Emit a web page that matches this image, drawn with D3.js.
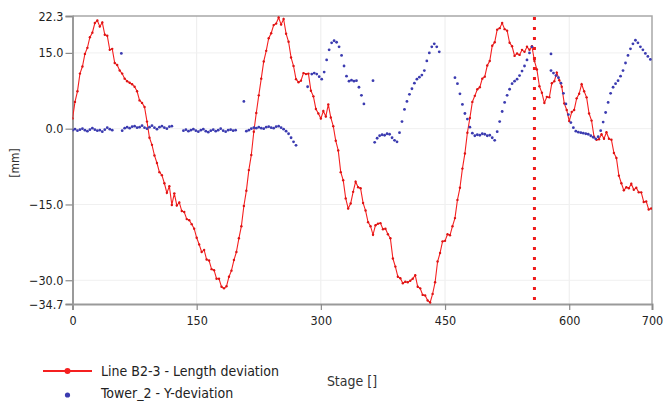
<!DOCTYPE html>
<html><head><meta charset="utf-8">
<script src="https://cdn.jsdelivr.net/npm/d3@7"></script>
<style>
html,body{margin:0;padding:0;background:#fff;}
svg{display:block;font-family:"DejaVu Sans Condensed","DejaVu Sans",sans-serif;}
</style></head>
<body><svg id="c" width="665" height="402"></svg>
<script>
// ---- data ----
const xTicks = [0, 150, 300, 450, 600, 700];
const yTicks = [22.3, 15.0, 0.0, -15.0, -30.0, -34.7];
const seriesNames = ["Line B2-3 - Length deviation", "Tower_2 - Y-deviation"];
const xLabel = "Stage []";
const yLabel = "[mm]";
const markerStage = 558;
const redStep = 3; // stage spacing of the red samples
// Line B2-3 length deviation, one value every 3 stages (rows of 10 = 30 stages)
const redValues = [
  2.0,5.3,7.4,10.9,12.3,14.8,16.0,18.1,19.0,20.9,
  21.4,20.2,21.0,18.6,18.4,15.6,15.8,13.0,12.6,11.5,
  10.9,9.9,9.4,9.1,8.8,8.3,7.4,5.6,5.1,4.3,
  1.4,-1.8,-3.2,-5.3,-6.8,-8.6,-9.2,-10.8,-12.7,-11.4,
  -15.1,-12.8,-15.2,-14.6,-16.3,-16.5,-17.9,-18.1,-18.9,-19.8,
  -21.6,-22.9,-24.4,-24.0,-25.9,-26.1,-27.8,-28.0,-29.7,-29.7,
  -31.3,-31.6,-31.2,-29.3,-28.1,-26.0,-24.4,-21.7,-19.3,-15.3,
  -12.3,-8.2,-5.2,-0.6,3.1,6.6,9.9,13.3,15.4,17.9,
  18.9,20.5,20.8,22.0,20.6,21.7,18.8,17.2,14.1,12.4,
  9.8,9.2,9.5,11.0,10.8,10.9,7.5,6.4,3.9,3.0,
  2.0,3.5,2.4,4.8,2.2,0.5,-2.4,-4.3,-8.6,-10.2,
  -13.8,-15.8,-14.8,-12.5,-10.5,-11.6,-11.8,-14.7,-16.2,-18.5,
  -19.3,-21.0,-19.1,-18.8,-18.7,-19.9,-19.8,-20.9,-21.7,-25.7,
  -27.3,-29.3,-29.6,-30.6,-30.3,-30.4,-30.1,-29.7,-29.0,-31.3,
  -31.6,-32.9,-33.0,-34.0,-34.4,-32.7,-30.4,-26.3,-24.6,-22.3,
  -22.2,-20.9,-21.1,-19.3,-17.7,-14.1,-11.7,-7.9,-4.9,-0.8,
  2.1,5.3,6.5,7.8,8.2,9.9,10.3,12.5,13.4,16.4,
  17.1,19.6,19.9,20.9,19.7,19.4,17.0,16.3,14.4,14.9,
  14.6,15.6,15.2,16.2,15.6,16.3,13.4,11.7,8.4,7.1,
  5.1,6.3,6.2,9.0,9.4,11.1,9.6,8.3,5.0,3.7,
  1.5,3.3,3.7,6.0,6.9,8.8,7.4,6.2,3.0,1.6,
  -1.6,-2.2,-2.1,-1.1,-2.0,-0.7,-2.0,-2.2,-4.8,-5.8,
  -9.3,-10.8,-12.2,-11.6,-11.8,-10.9,-12.1,-11.7,-12.6,-12.6,
  -14.5,-14.4,-16.0,-15.8
];
// Tower_2 Y-deviation: [stage, value] samples (scatter, with gaps)
const bluePoints = [
  [0,-0.3],[3,-0.1],[6,-0.4],[9,-0.2],[12,0.0],[15,-0.3],[18,-0.5],[21,-0.2],[24,0.1],[27,-0.2],[30,-0.4],[33,-0.3],[36,-0.6],[39,-0.2],[42,0.2],[45,-0.1],[48,-0.3],
  [59,14.9],
  [60,-0.4],[63,0.1],[66,0.3],[69,0.1],[72,0.4],[75,0.5],[78,0.2],[81,0.3],[84,0.6],[87,0.2],[90,0.0],[93,0.3],[96,0.6],[99,0.2],[102,-0.1],[105,0.3],[108,0.5],[111,0.2],[114,0.0],[117,0.4],[120,0.5],
  [134,-0.4],[137,-0.2],[140,-0.5],[143,-0.3],[146,-0.1],[149,-0.4],[152,-0.6],[155,-0.3],[158,-0.1],[161,-0.5],[164,-0.7],[167,-0.4],[170,-0.2],[173,-0.5],[176,-0.3],[179,0.0],[182,-0.4],[185,-0.6],[188,-0.3],[191,-0.2],[194,-0.4],[197,-0.3],
  [207,5.4],
  [210,-0.5],[213,-0.3],[216,0.0],[219,0.2],[222,0.1],[225,0.3],[228,0.1],[231,0.0],[234,0.3],[237,0.4],[240,0.2],[243,0.1],[246,0.4],[249,0.5],[252,0.2],[255,-0.1],[258,-0.5],[261,-1.0],[264,-1.8],[267,-2.6],[270,-3.3],
  [284,8.3],
  [289,10.8],[292,11.0],[295,10.8],[298,10.3],[301,9.8],[304,11.2],[307,13.6],[310,15.6],[313,17.0],[316,17.4],[319,17.1],[322,16.2],[325,14.5],[328,12.4],[331,10.4],[334,9.4],[337,9.6],[340,9.4],[343,9.5],[346,8.2],[349,6.6],[352,4.9],
  [363,9.5],
  [365,-2.7],[368,-1.9],[371,-1.4],[374,-1.2],[377,-1.3],[380,-1.0],[383,-1.1],[386,-1.8],[389,-2.3],[392,-2.6],[395,-0.8],[398,1.4],[401,3.8],[404,5.4],[407,6.8],[410,7.9],[413,9.0],[416,9.8],[419,10.2],[422,10.6],[425,11.5],[428,13.4],[431,15.0],[434,16.2],[437,16.8],[440,16.2],[443,15.2],
  [462,10.1],[465,8.9],[468,6.9],[471,4.8],[474,3.0],[477,1.9],[480,0.3],[483,-0.9],[486,-1.4],[489,-1.2],[492,-1.3],[495,-1.0],[498,-1.1],[501,-1.4],[504,-1.3],[507,-1.8],[510,-2.3],[513,-0.6],[516,1.4],[519,3.4],[522,5.2],[525,6.6],[528,7.8],[531,8.9],[534,9.4],[537,9.8],[540,10.5],[543,11.4],[546,12.4],[549,13.6],[552,15.0],[555,16.2],
  [578,14.8],
  [578,11.5],[581,11.0],[584,10.5],[587,10.1],[590,9.0],[593,7.0],[596,4.9],[599,2.8],[602,1.2],[605,0.2],[608,-0.5],[611,-0.7],[614,-0.8],[617,-0.9],[620,-1.0],[623,-1.1],[626,-1.4],[629,-1.7],[632,-2.0],[635,-1.6],[638,-0.4],[641,1.3],[644,3.2],[647,5.2],[650,7.0],[653,8.2],[656,8.9],[659,9.5],[662,10.4],[665,11.5],[668,13.0],[671,14.5],[674,15.8],[677,16.8],[680,17.5],[683,17.0],[686,16.2],[689,15.6],[692,14.9],[695,14.3],[698,13.7]
];

// ---- layout ----
const svg = d3.select("#c");
const L = 72.5, R = 652, T = 16, B = 304;
const x = d3.scaleLinear().domain([0, 700]).range([L, R]);
const y = d3.scaleLinear().domain([-34.7, 22.3]).range([B, T]);
const RED = "#f52020", BLUE = "#3b3bb0";
const FONT = "\"DejaVu Sans Condensed\",\"DejaVu Sans\",sans-serif";

// grid
const g = svg.append("g");
g.selectAll("line.vg").data(xTicks.filter(d => d > 0 && d < 700)).enter().append("line")
  .attr("x1", d => x(d)).attr("x2", d => x(d)).attr("y1", T).attr("y2", B)
  .attr("stroke", "#ececec").attr("stroke-width", 1);
g.selectAll("line.hg").data([15, 0, -15, -30]).enter().append("line")
  .attr("x1", L).attr("x2", R).attr("y1", d => y(d)).attr("y2", d => y(d))
  .attr("stroke", "#f0f0f0").attr("stroke-width", 1);

// frame (top/right)
svg.append("path").attr("d", `M${L},${T}H${R}V${B}`).attr("fill", "none")
  .attr("stroke", "#a8a8a8").attr("stroke-width", 1.5);

// axes
const xAxis = d3.axisBottom(x).tickValues(xTicks).tickFormat(d3.format("d")).tickSize(6).tickPadding(6);
const yAxis = d3.axisLeft(y).tickValues(yTicks).tickFormat(d3.format(".1f")).tickSize(7).tickPadding(2);
const gx = svg.append("g").attr("transform", `translate(0,${B})`).call(xAxis);
const gy = svg.append("g").attr("transform", `translate(${L},0)`).call(yAxis);
[gx, gy].forEach(a => {
  a.select(".domain").attr("stroke", "#9a9a9a").attr("stroke-width", 2);
  a.selectAll(".tick line").attr("stroke", "#8a8a8a").attr("stroke-width", 1.2);
  a.selectAll(".tick text").attr("fill", "#222").attr("font-size", 12.5).attr("font-family", FONT);
});

// red series
const redData = redValues.map((v, i) => [i * redStep, v]);
svg.append("clipPath").attr("id", "pc").append("rect")
  .attr("x", L).attr("y", T - 1).attr("width", R - L).attr("height", B - T + 1);
const plot = svg.append("g").attr("clip-path", "url(#pc)");
plot.append("path").datum(redData)
  .attr("d", d3.line().x(d => x(d[0])).y(d => y(d[1])))
  .attr("fill", "none").attr("stroke", RED).attr("stroke-width", 1.1);
plot.selectAll("circle.r").data(redData).enter().append("circle")
  .attr("cx", d => x(d[0])).attr("cy", d => y(d[1])).attr("r", 1.2).attr("fill", "#dd1414");

// blue series
plot.selectAll("circle.b").data(bluePoints).enter().append("circle")
  .attr("cx", d => x(d[0])).attr("cy", d => y(d[1])).attr("r", 1.4).attr("fill", BLUE);

// marker line
svg.append("line").attr("x1", x(markerStage)).attr("x2", x(markerStage))
  .attr("y1", T + 1).attr("y2", B)
  .attr("stroke", "#ee1c1c").attr("stroke-width", 3).attr("stroke-dasharray", "3,7");

// axis titles
svg.append("text").attr("transform", "translate(19,163) rotate(-90)")
  .attr("text-anchor", "middle").attr("font-size", 12).attr("fill", "#333").text(yLabel);
svg.append("text").attr("x", 352).attr("y", 386).attr("text-anchor", "middle")
  .attr("font-size", 14).attr("fill", "#333").text(xLabel);

// legend
const lg = svg.append("g");
lg.append("line").attr("x1", 43).attr("x2", 92).attr("y1", 371).attr("y2", 371)
  .attr("stroke", RED).attr("stroke-width", 2);
lg.append("circle").attr("cx", 67.5).attr("cy", 371).attr("r", 3).attr("fill", RED);
lg.append("circle").attr("cx", 67.5).attr("cy", 395).attr("r", 2.6).attr("fill", BLUE);
lg.selectAll("text").data(seriesNames).enter().append("text")
  .attr("x", 101).attr("y", (d, i) => 375.5 + i * 22.5).attr("font-size", 14).attr("fill", "#222").text(d => d);
</script></body></html>
